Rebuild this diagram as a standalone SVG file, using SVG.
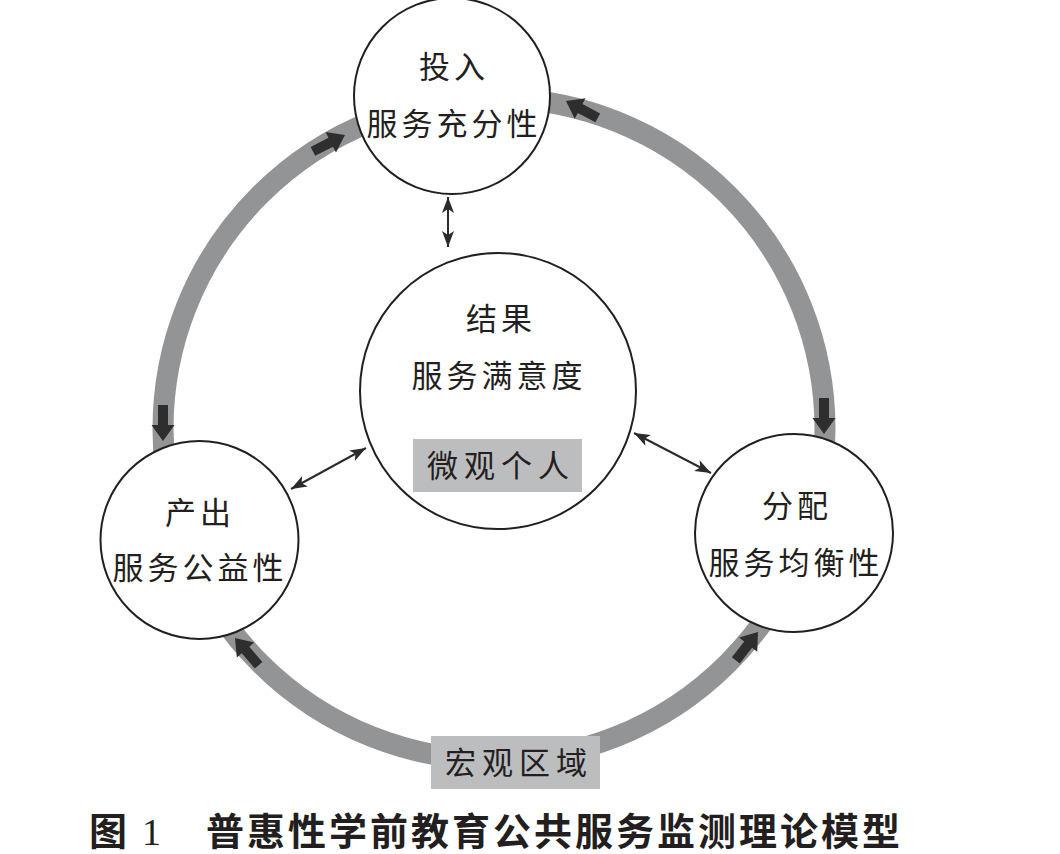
<svg xmlns="http://www.w3.org/2000/svg" xmlns:xlink="http://www.w3.org/1999/xlink" width="1060" height="854" viewBox="0 0 1060 854">
<style>
.node{fill:#ffffff;stroke:#231f20;stroke-width:2}
.t{font-family:"Noto Sans CJK SC","Noto Sans CJK JP",sans-serif;font-size:31px;fill:#231f20;text-anchor:middle;letter-spacing:4px}
.lab{fill:#bcbdbf}
.thin{stroke:#2b2b2b;stroke-width:2;fill:none;marker-start:url(#ah);marker-end:url(#ah)}
.blk{fill:#2e2e2e}
.title{font-family:"Noto Sans CJK SC",sans-serif;font-size:38px;font-weight:bold;fill:#231f20}
</style>
<defs>
<marker id="ah" viewBox="0 0 16 12" refX="16" refY="6" markerWidth="16" markerHeight="12" markerUnits="userSpaceOnUse" orient="auto-start-reverse">
<path d="M0,0 L16,6 L0,12 L4,6 Z" fill="#2b2b2b"/>
</marker>
<path id="blk" d="M0,0 L-16,-11.5 L-16,-5 L-36,-5 L-36,5 L-16,5 L-16,11.5 Z"/>
</defs>
<rect width="1060" height="854" fill="#ffffff"/>
<g id="connectors">
<circle cx="494" cy="429" r="331" fill="none" stroke="#939496" stroke-width="21"/>
<use href="#blk" class="blk" transform="translate(345,135) rotate(-27)"/>
<use href="#blk" class="blk" transform="translate(566,101) rotate(-152)"/>
<use href="#blk" class="blk" transform="translate(824,434) rotate(90)"/>
<use href="#blk" class="blk" transform="translate(163,441) rotate(90)"/>
<use href="#blk" class="blk" transform="translate(235,638) rotate(-131)"/>
<use href="#blk" class="blk" transform="translate(758,632) rotate(-52)"/>
<line class="thin" x1="448" y1="197" x2="448" y2="247"/>
<line class="thin" x1="291" y1="489" x2="366" y2="448"/>
<line class="thin" x1="634" y1="433" x2="711" y2="473"/>
</g>
<g id="node-input">
<circle class="node" cx="452" cy="96" r="98"/>
<text class="t" x="454" y="78">投入</text>
<text class="t" x="454" y="135">服务充分性</text>
</g>
<g id="node-outcome">
<circle class="node" cx="498" cy="391" r="138"/>
<text class="t" x="501" y="330">结果</text>
<text class="t" x="499" y="387">服务满意度</text>
<rect class="lab" x="413" y="439" width="169" height="53"/>
<text class="t" x="501" y="477" style="letter-spacing:6px">微观个人</text>
</g>
<g id="node-output">
<circle class="node" cx="199.5" cy="540" r="99"/>
<text class="t" x="200" y="524">产出</text>
<text class="t" x="200" y="579">服务公益性</text>
</g>
<g id="node-distribution">
<circle class="node" cx="794" cy="533" r="99"/>
<text class="t" x="797" y="517">分配</text>
<text class="t" x="796" y="574">服务均衡性</text>
</g>
<g id="label-macro">
<rect class="lab" x="431" y="736" width="169" height="53"/>
<text class="t" x="519" y="774" style="letter-spacing:6px">宏观区域</text>
</g>
<g id="caption">
<text class="title" x="89" y="845">图</text>
<text x="142" y="845" style="font-family:'Liberation Serif',serif;font-size:38px;fill:#231f20">1</text>
<text class="title" x="206" y="845" style="letter-spacing:3px">普惠性学前教育公共服务监测理论模型</text>
</g>
</svg>
